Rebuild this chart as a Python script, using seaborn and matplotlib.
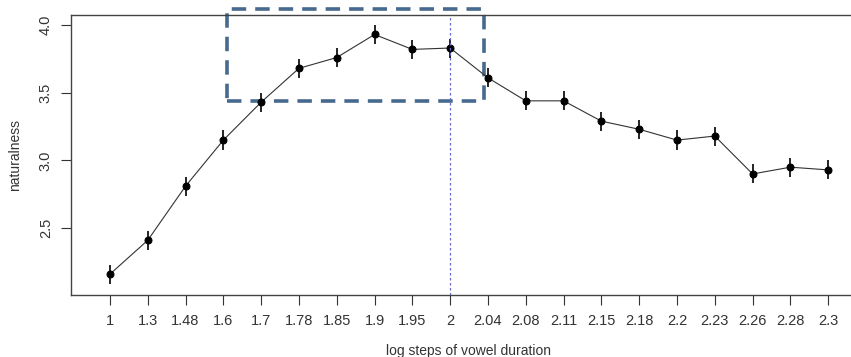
#!/usr/bin/env python3
"""
Naturalness ratings across log steps of vowel duration
"""

import numpy as np
import pandas as pd
import matplotlib
matplotlib.use("Agg")
import matplotlib.pyplot as plt
import seaborn as sns
from matplotlib.patches import Rectangle

# data
steps = ["1", "1.3", "1.48", "1.6", "1.7", "1.78", "1.85", "1.9", "1.95", "2",
         "2.04", "2.08", "2.11", "2.15", "2.18", "2.2", "2.23", "2.26", "2.28", "2.3"]
naturalness = [2.16, 2.41, 2.81, 3.15, 3.43, 3.68, 3.76, 3.93, 3.82, 3.83,
               3.61, 3.44, 3.44, 3.29, 3.23, 3.15, 3.18, 2.90, 2.95, 2.93]
stderr = [0.07, 0.07, 0.07, 0.075, 0.07, 0.07, 0.07, 0.07, 0.07, 0.07,
          0.07, 0.07, 0.07, 0.07, 0.07, 0.075, 0.07, 0.07, 0.07, 0.07]
yticks = [2.5, 3.0, 3.5, 4.0]

df = pd.DataFrame({"pos": np.arange(1, len(steps) + 1), "naturalness": naturalness, "se": stderr})

sns.set_style("white")
plt.rcParams['font.family'] = ['Liberation Sans', 'DejaVu Sans']

fig = plt.figure(figsize=(8.51, 3.57), dpi=100)
ax = fig.add_axes([71 / 851, 62 / 357, 795 / 851, 280 / 357])

sns.lineplot(data=df, x="pos", y="naturalness", ax=ax, color="#333333", linewidth=0.8,
             marker="o", markersize=5, markerfacecolor="black", markeredgecolor="black")
ax.errorbar(df["pos"], df["naturalness"], yerr=df["se"], fmt="none", ecolor="black",
            elinewidth=1.2, capsize=0)

# reference line at the "2" step
ax.axvline(steps.index("2") + 1, color="#6a6ad0", linestyle=(0, (2, 2)), linewidth=0.9)

# highlighted region
box = Rectangle((4.09, 3.44), 10.89 - 4.09, 4.118 - 3.44, fill=False,
                edgecolor="#46698e", linestyle=(0, (4, 2.5)), linewidth=2.6, clip_on=False)
ax.add_patch(box)

ax.set_xlim(-0.03, 21)
ax.set_ylim(2.006, 4.074)
ax.set_xticks(df["pos"])
ax.set_xticklabels(steps)
ax.set_yticks(yticks)
ax.set_yticklabels([f"{t:.1f}" for t in yticks], rotation=90, va="center")
ax.tick_params(axis="both", colors="#333333", labelsize=10.5, length=7, width=0.8,
               direction="out", bottom=True, left=True, pad=6)
ax.tick_params(axis="x", pad=7)

for s in ax.spines.values():
    s.set_color("#444444")
    s.set_linewidth(1.0)

ax.set_xlabel("log steps of vowel duration", fontsize=10, color="#333333", labelpad=11)
ax.set_ylabel("naturalness", fontsize=10, color="#333333", labelpad=12)

fig.savefig("out.png", dpi=100)
